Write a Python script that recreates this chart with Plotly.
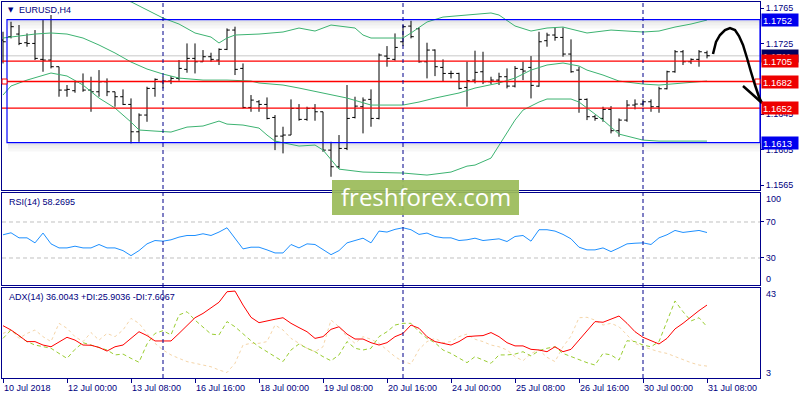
import plotly.graph_objects as go

# ---------------- data ----------------
bar_idx = list(range(89))
opens = [1.17288,1.17326,1.17356,1.17258,1.17250,1.17070,1.17062,1.16987,1.16723,1.16716,
         1.16817,1.16723,1.16704,1.16817,1.16704,1.16648,1.16561,1.16252,1.16441,1.16742,
         1.16817,1.16825,1.16855,1.16957,1.17081,1.17043,1.17100,1.17062,1.17183,1.17401,
         1.16968,1.16527,1.16591,1.16561,1.16414,1.16203,1.16215,1.16516,1.16392,1.16516,
         1.16478,1.16045,1.15857,1.16064,1.16414,1.16535,1.16618,1.16403,1.17107,1.17070,
         1.17269,1.17446,1.17416,1.17043,1.17175,1.16979,1.16911,1.16911,1.16753,1.16836,
         1.16930,1.16817,1.16836,1.16874,1.16768,1.16957,1.16979,1.16768,1.17281,1.17345,
         1.17318,1.17130,1.16949,1.16618,1.16422,1.16403,1.16505,1.16264,1.16384,1.16554,
         1.16565,1.16591,1.16535,1.16738,1.16930,1.17156,1.17043,1.17070,1.17145]
highs = [1.17382,1.17495,1.17458,1.17363,1.17401,1.17514,1.17571,1.16987,1.16780,1.16829,
         1.16911,1.16874,1.16949,1.16855,1.16704,1.16731,1.16629,1.16460,1.16761,1.16855,
         1.16874,1.16881,1.17062,1.17250,1.17250,1.17175,1.17145,1.17194,1.17420,1.17439,
         1.17024,1.16667,1.16610,1.16640,1.16441,1.16309,1.16618,1.16565,1.16535,1.16565,
         1.16478,1.16139,1.16215,1.16780,1.16648,1.16640,1.16731,1.17137,1.17220,1.17363,
         1.17458,1.17506,1.17431,1.17258,1.17183,1.17070,1.16942,1.16919,1.17043,1.17168,
         1.17156,1.16874,1.16919,1.16968,1.16994,1.17043,1.17107,1.17382,1.17371,1.17431,
         1.17431,1.17296,1.16987,1.16629,1.16441,1.16535,1.16542,1.16403,1.16610,1.16618,
         1.16618,1.16618,1.16761,1.16942,1.17175,1.17175,1.17081,1.17175,1.17168]
lows = [1.17024,1.17307,1.17231,1.17213,1.17062,1.16930,1.16968,1.16648,1.16648,1.16693,
        1.16704,1.16478,1.16648,1.16655,1.16535,1.16554,1.16121,1.16139,1.16365,1.16648,
        1.16742,1.16791,1.16829,1.16919,1.16911,1.17043,1.17043,1.17006,1.17175,1.16893,
        1.16516,1.16478,1.16478,1.16392,1.16045,1.16008,1.16215,1.16377,1.16377,1.16377,
        1.16026,1.15744,1.15838,1.16045,1.16403,1.16234,1.16309,1.16392,1.16987,1.17055,
        1.17220,1.17307,1.17032,1.16855,1.16881,1.16817,1.16855,1.16731,1.16535,1.16799,
        1.16791,1.16791,1.16780,1.16742,1.16753,1.16836,1.16629,1.16761,1.17213,1.17281,
        1.17100,1.16919,1.16467,1.16384,1.16377,1.16365,1.16234,1.16196,1.16365,1.16505,
        1.16535,1.16478,1.16467,1.16731,1.16919,1.17006,1.17017,1.16987,1.17081]
closes = [1.17269,1.17439,1.17250,1.17250,1.17081,1.17062,1.16987,1.16723,1.16731,1.16817,
          1.16723,1.16704,1.16817,1.16704,1.16648,1.16561,1.16252,1.16441,1.16742,1.16844,
          1.16825,1.16855,1.16968,1.17081,1.17043,1.17100,1.17070,1.17183,1.17401,1.16957,
          1.16527,1.16610,1.16561,1.16403,1.16203,1.16215,1.16516,1.16392,1.16516,1.16478,
          1.16045,1.15857,1.16064,1.16403,1.16542,1.16610,1.16403,1.17119,1.17081,1.17205,
          1.17439,1.17326,1.17043,1.17175,1.16987,1.16911,1.16911,1.16742,1.16829,1.16923,
          1.16817,1.16836,1.16874,1.16768,1.16968,1.16938,1.16776,1.17269,1.17345,1.17318,
          1.17130,1.16930,1.16618,1.16422,1.16403,1.16505,1.16264,1.16384,1.16554,1.16565,
          1.16591,1.16535,1.16738,1.16930,1.17156,1.17043,1.17070,1.17156,1.17111]

bb_up_x = [0,2,4,6,8,10,12,14,16,18,20,22,24,26,27,28,29,32,35,37,39,41,44,45,46,50,51,53,55,58,
           61,62,63,64,66,68,70,72,73,76,78,80,82,84,86,88]
bb_up = [1.1796,1.1787,1.1785,1.1782,1.1783,1.1784,1.1783,1.1776,1.1772,1.17627,
         1.17537,1.17469,1.17368,1.17322,1.17255,1.17311,1.17345,1.17356,1.17379,1.17424,
         1.17390,1.17458,1.17424,1.17345,1.17311,1.17311,1.17368,1.17492,1.17548,1.17571,
         1.17594,1.17571,1.17514,1.17447,1.17390,1.17424,1.17435,1.17390,1.17368,1.17401,
         1.17390,1.17379,1.17390,1.17435,1.17469,1.17514]
bb_mid_x = [0,2,4,6,8,10,12,14,16,18,20,22,25,28,31,32,35,37,41,43,46,50,52,54,57,59,62,64,66,68,
            70,72,73,75,77,80,82,85,88]
bb_mid = [1.17311,1.17334,1.17356,1.17368,1.17356,1.17311,1.17232,1.17142,1.17040,1.16961,
          1.16904,1.16859,1.16836,1.16836,1.16825,1.16803,1.16780,1.16746,1.16667,1.16633,
          1.16554,1.16554,1.16588,1.16633,1.16690,1.16746,1.16803,1.16859,1.16949,1.17006,
          1.17029,1.16995,1.16949,1.16893,1.16825,1.16791,1.16780,1.16803,1.16825]
bb_low_x = [0,1,3,6,8,10,12,14,16,17,19,21,23,25,27,28,30,32,33,34,37,39,40,41,42,45,50,53,56,58,59,
            61,62,63,64,65,66,67,68,71,72,73,75,77,80,82,88]
bb_low = [1.16667,1.16769,1.16836,1.16916,1.16882,1.16780,1.16633,1.16520,1.16362,1.16272,
          1.16260,1.16249,1.16305,1.16317,1.16373,1.16339,1.16328,1.16294,1.16215,1.16147,
          1.16091,1.16102,1.16046,1.15932,1.15830,1.15797,1.15786,1.15763,1.15797,1.15864,1.15876,
          1.15955,1.16102,1.16237,1.16384,1.16497,1.16543,1.16588,1.16622,1.16622,1.16588,
          1.16520,1.16384,1.16226,1.16158,1.16147,1.16147]

rsi = [55.8,58.0,52.4,52.4,46.8,57.7,45.7,41.2,41.2,43.1,
       41.2,41.2,45.0,41.2,41.2,38.2,32.6,38.2,45.7,49.4,
       48.7,50.2,53.2,55.0,55.0,56.9,55.0,58.8,63.6,51.3,
       40.1,42.0,42.0,39.0,35.6,35.6,45.0,41.2,45.7,45.0,
       39.0,33.7,38.2,46.8,49.4,52.0,46.8,59.9,58.8,61.8,
       63.6,61.4,56.2,57.7,53.9,52.4,52.4,49.4,50.2,52.0,
       49.4,50.2,51.3,48.3,53.9,55.0,48.7,61.4,61.4,59.9,
       56.2,51.3,42.0,39.0,39.0,41.2,37.1,41.2,45.7,46.4,
       46.8,45.0,52.4,55.8,60.6,58.4,59.5,60.6,58.3]
adx = [26.4,24.4,21.8,19.0,19.0,17.4,16.6,19.0,21.0,19.7,
       17.4,17.3,16.3,14.6,16.6,17.4,20.5,23.6,21.8,19.3,
       19.3,19.3,22.8,26.7,30.1,32.1,34.5,37.3,42.2,42.5,
       36.0,30.3,27.8,28.7,29.4,30.1,27.5,25.5,23.6,20.5,
       21.3,24.7,25.9,22.5,20.2,20.2,18.5,17.4,18.5,21.3,
       22.8,26.7,25.2,21.3,19.0,18.2,17.4,19.0,21.3,21.6,
       21.8,23.2,21.3,18.5,17.0,17.0,15.4,15.1,14.3,16.6,
       14.3,15.4,19.7,24.4,28.3,28.0,29.4,30.9,27.5,23.6,
       21.0,19.4,17.9,20.5,24.9,27.5,30.6,33.4,36.0]
plus_di = [20.5,24.4,21.6,19.0,17.4,16.6,15.9,13.5,11.2,15.4,
           18.5,17.4,16.2,15.1,12.8,13.2,11.2,9.4,17.9,22.8,
           24.1,22.1,31.4,32.9,29.0,25.6,22.5,22.1,28.3,25.9,
           22.5,19.4,16.6,14.3,12.0,9.7,15.1,17.9,15.9,14.3,
           12.0,10.1,12.8,19.0,15.9,15.1,15.9,21.3,23.6,26.7,
           27.5,27.5,23.6,20.5,18.5,15.1,13.5,11.2,9.2,12.0,
           10.4,8.9,12.8,12.8,13.2,14.3,12.3,14.8,15.9,16.6,
           13.5,12.0,10.4,9.2,8.1,13.5,12.8,10.4,19.4,19.0,
           17.4,16.6,19.0,28.3,37.9,32.9,28.6,30.1,25.9]
minus_di = [22.8,24.4,20.5,22.8,24.4,21.3,19.0,27.5,25.2,21.3,
            19.0,23.2,19.7,22.8,21.3,24.4,29.8,27.5,22.8,18.2,
            15.1,12.8,11.2,9.7,8.9,8.1,7.3,5.8,4.6,8.9,
            17.4,18.2,18.2,19.0,26.7,24.4,20.5,18.2,15.9,14.3,
            16.6,29.0,25.9,21.3,18.2,21.3,20.1,18.2,15.1,12.0,
            9.7,8.6,15.4,19.0,20.5,18.5,19.0,21.3,22.5,20.1,
            19.0,17.4,16.6,15.1,12.0,10.1,13.5,15.1,11.7,9.7,
            16.6,21.6,30.1,30.3,29.0,26.7,27.5,25.9,22.1,18.2,
            16.6,15.4,14.3,13.5,12.0,10.4,9.2,8.1,7.6]

tick_idx = [0,8,16,24,32,40,48,56,64,72,80,88]
tick_labels = ["10 Jul 2018","12 Jul 00:00","13 Jul 08:00","16 Jul 16:00","18 Jul 00:00",
               "19 Jul 08:00","20 Jul 16:00","24 Jul 00:00","25 Jul 08:00","26 Jul 16:00",
               "30 Jul 00:00","31 Jul 08:00"]
separator_idx = [20, 50, 80]
price_ticks = [1.1765, 1.1725, 1.1645, 1.1605, 1.1565]
red_levels = [1.1705, 1.1682, 1.1652]
box_top, box_bottom = 1.1752, 1.1613
bid = 1.1711
rsi_levels = [30, 70]

# ---------------- styling ----------------
W, H = 800, 400
def X(p): return p / W
def Y(p): return 1 - p / H

FRAME = "#00008B"
TXT = "#000080"
FONT = "Liberation Sans"
GREEN = "#3CB371"

fig = go.Figure()
fig.add_trace(go.Ohlc(x=bar_idx, open=opens, high=highs, low=lows, close=closes,
                      increasing=dict(line=dict(color="black", width=1)),
                      decreasing=dict(line=dict(color="black", width=1)),
                      tickwidth=0.35, xaxis="x", yaxis="y", showlegend=False, hoverinfo="skip"))
for bx, by in [(bb_up_x, bb_up), (bb_mid_x, bb_mid), (bb_low_x, bb_low)]:
    fig.add_trace(go.Scatter(x=bx, y=by, mode="lines", line=dict(color=GREEN, width=1),
                             xaxis="x", yaxis="y", showlegend=False, hoverinfo="skip"))
fig.add_trace(go.Scatter(x=bar_idx, y=rsi, mode="lines", line=dict(color="#1E90FF", width=1),
                         xaxis="x2", yaxis="y2", showlegend=False, hoverinfo="skip"))
fig.add_trace(go.Scatter(x=bar_idx, y=minus_di, mode="lines", line=dict(color="#F5D5A8", width=1, dash="dot"),
                         xaxis="x3", yaxis="y3", showlegend=False, hoverinfo="skip"))
fig.add_trace(go.Scatter(x=bar_idx, y=plus_di, mode="lines", line=dict(color="#9ACD32", width=1, dash="4px,3px"),
                         xaxis="x3", yaxis="y3", showlegend=False, hoverinfo="skip"))
fig.add_trace(go.Scatter(x=bar_idx, y=adx, mode="lines", line=dict(color="#FF0000", width=1),
                         xaxis="x3", yaxis="y3", showlegend=False, hoverinfo="skip"))

xr = [-0.125, 94.625]
xcommon = dict(range=xr, domain=[X(2), X(760)], showgrid=False, zeroline=False, showline=True,
               linecolor=FRAME, linewidth=1, mirror=True, showticklabels=False, fixedrange=True)
ycommon = dict(showgrid=False, zeroline=False, showline=True, linecolor=FRAME, linewidth=1,
               mirror=True, side="right", ticks="outside", ticklen=3, tickcolor=FRAME,
               tickfont=dict(size=9, color=TXT, family=FONT), fixedrange=True)

shapes = []
annotations = []

# bid line
shapes.append(dict(type="line", xref="paper", yref="y", x0=X(2), x1=X(760), y0=bid, y1=bid,
                   line=dict(color="#C8C8C8", width=1), layer="below"))
# red levels
for lv in red_levels:
    shapes.append(dict(type="line", xref="paper", yref="y", x0=X(2), x1=X(760), y0=lv, y1=lv,
                       line=dict(color="#FF0000", width=1.3)))
# rectangle shadow
for lv in (box_top, box_bottom):
    for a, b, al in [(-1, -3, 0.10), (-3, -6, 0.06), (-6, -9, 0.03)]:
        shapes.append(dict(type="rect", xref="paper", yref="y", ysizemode="pixel", yanchor=lv,
                           x0=X(8), x1=X(760), y0=a, y1=b, line=dict(width=0),
                           fillcolor="rgba(0,0,0,%.2f)" % al, layer="below"))
# blue rectangle
shapes.append(dict(type="rect", xref="paper", yref="y", x0=X(7), x1=X(760), y0=box_bottom, y1=box_top,
                   line=dict(color="#0000FF", width=1.2), fillcolor="rgba(0,0,0,0)"))
# separators
for s in separator_idx:
    shapes.append(dict(type="line", xref="x", yref="paper", x0=s, x1=s, y0=Y(378), y1=Y(2),
                       line=dict(color=FRAME, width=1, dash="4px,3px")))
# rsi levels
for lv in rsi_levels:
    shapes.append(dict(type="line", xref="paper", yref="y2", x0=X(2), x1=X(760), y0=lv, y1=lv,
                       line=dict(color="#C0C0C0", width=1, dash="4px,3px")))
# small red anchor squares
for cx in (4.5, 757.5):
    shapes.append(dict(type="rect", xref="paper", yref="y", ysizemode="pixel", yanchor=1.1682,
                       x0=X(cx - 2.5), x1=X(cx + 2.5), y0=-2.5, y1=2.5,
                       line=dict(color="#FF0000", width=1), fillcolor="white"))
# watermark box
shapes.append(dict(type="rect", xref="paper", yref="paper", x0=X(332), x1=X(519), y0=Y(215), y1=Y(180),
                   line=dict(width=0), fillcolor="#9BBB59", opacity=0.93, layer="above"))
# hand drawn arrow
pts = [(713, 54), (716, 42), (720, 35), (725, 30), (730, 28), (735, 30), (739, 36), (743, 45),
       (747, 58), (751, 72), (755, 85), (759, 97), (762, 103)]
path = "M " + " L ".join("%.5f,%.5f" % (X(a), Y(b)) for a, b in pts)
shapes.append(dict(type="path", xref="paper", yref="paper", path=path,
                   line=dict(color="black", width=2.5)))
head = [(743, 86), (752, 94), (762, 103)]
shapes.append(dict(type="path", xref="paper", yref="paper",
                   path="M " + " L ".join("%.5f,%.5f" % (X(a), Y(b)) for a, b in head),
                   line=dict(color="black", width=2.5)))

# price labels with backgrounds
def tag(val, bg):
    annotations.append(dict(xref="paper", yref="y", x=X(761), y=val, xanchor="left", yanchor="middle",
                            text="%.4f" % val, showarrow=False, bgcolor=bg, borderpad=1,
                            width=34, height=10, align="left",
                            font=dict(size=9.5, color="white", family=FONT)))
tag(box_top, "#0000EE")
tag(bid, "#000060")
tag(1.1705, "#EE0000")
tag(1.1682, "#EE0000")
tag(1.1652, "#EE0000")
tag(box_bottom, "#0000EE")

# titles
def txt(x, y, s, size=9, color=TXT, anchor="left", fam=FONT):
    annotations.append(dict(xref="paper", yref="paper", x=X(x), y=Y(y), xanchor=anchor, yanchor="middle",
                            text=s, showarrow=False, font=dict(size=size, color=color, family=fam)))
txt(6, 10, "▼", size=7, fam="DejaVu Sans")
txt(17, 10, "EURUSD,H4")
txt(7, 202, "RSI(14) 58.2695")
txt(7, 297, "ADX(14) 36.0043 +DI:25.9036 -DI:7.6067")
txt(764, 199, "100")
txt(764, 279, "0")
txt(764, 294, "43")
txt(764, 373, "3")
# date labels
for ti, tl in zip(tick_idx, tick_labels):
    annotations.append(dict(xref="x3", yref="paper", x=ti, y=Y(388), xanchor="left", yanchor="middle",
                            xshift=-1, text=tl, showarrow=False,
                            font=dict(size=9, color=TXT, family=FONT)))
# watermark text
annotations.append(dict(xref="paper", yref="paper", x=X(425.5), y=Y(197), xanchor="center", yanchor="middle",
                        text="freshforex.com", showarrow=False,
                        font=dict(size=24, color="white", family="Open Sans")))

fig.update_layout(
    width=W, height=H, autosize=False, margin=dict(l=0, r=0, t=0, b=0),
    paper_bgcolor="white", plot_bgcolor="rgba(0,0,0,0)", hovermode=False, showlegend=False,
    font=dict(family=FONT, size=9, color=TXT),
    xaxis=dict(**xcommon, anchor="y", rangeslider=dict(visible=False)),
    xaxis2=dict(**xcommon, anchor="y2", matches="x"),
    xaxis3=dict(**xcommon, anchor="y3", matches="x", tickvals=tick_idx, ticks="outside",
                ticklen=4, tickcolor=FRAME),
    yaxis=dict(**ycommon, anchor="x", domain=[Y(190), Y(2)], range=[1.155944, 1.17718],
               tickvals=price_ticks, ticktext=["%.4f" % v for v in price_ticks]),
    yaxis2=dict(**ycommon, anchor="x2", domain=[Y(285), Y(193)], range=[0, 102.2],
                tickvals=rsi_levels, ticktext=[str(v) for v in rsi_levels]),
    yaxis3=dict(**ycommon, anchor="x3", domain=[Y(378), Y(288)], range=[2.07, 43.93],
                tickvals=[]),
    shapes=shapes, annotations=annotations,
)

fig.write_html("out.html", config={"displayModeBar": False, "staticPlot": True},
               post_script="document.body.style.margin='0px';document.body.style.padding='0px';")
